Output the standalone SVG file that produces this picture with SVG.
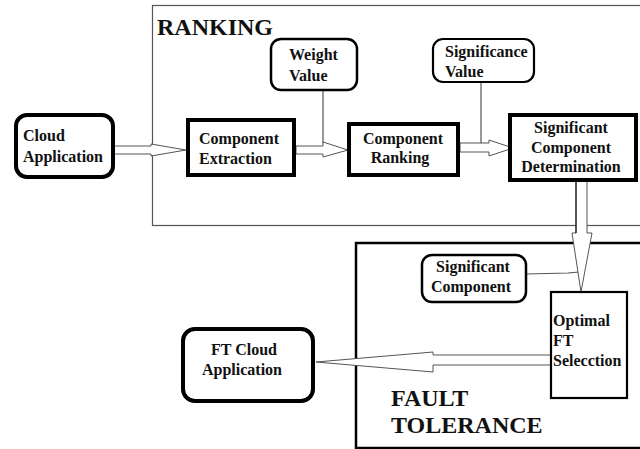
<svg xmlns="http://www.w3.org/2000/svg" width="640" height="449" viewBox="0 0 640 449">
  <style>
    .lbl { font-family: "Liberation Serif", "Times New Roman", serif; font-weight: bold; font-size: 16px; fill: #111; }
    .title { font-family: "Liberation Serif", "Times New Roman", serif; font-weight: bold; font-size: 24px; fill: #111; }
    .box { fill: #fff; stroke: #000; stroke-width: 4; }
    .rbox { fill: #fff; stroke: #000; }
    .arrow { fill: #fff; stroke: #555; stroke-width: 1; stroke-linejoin: miter; }
    .link { fill: none; stroke: #555; stroke-width: 1.2; }
  </style>
  <rect width="640" height="449" fill="#fff"/>

  <!-- Ranking stage frame -->
  <g id="ranking-frame">
    <rect x="152.5" y="5.5" width="500" height="220" fill="none" stroke="#555" stroke-width="1.2"/>
    <text class="title" x="157" y="35">RANKING</text>
  </g>

  <!-- Fault tolerance stage frame -->
  <g id="fault-tolerance-frame">
    <rect x="356" y="243" width="300" height="205" fill="none" stroke="#000" stroke-width="2.5"/>
    <text class="title" x="391" y="406">FAULT</text>
    <text class="title" x="391" y="433">TOLERANCE</text>
  </g>

  <!-- Connectors -->
  <g id="connectors">
    <line class="link" x1="323" y1="90" x2="323" y2="143"/>
    <line class="link" x1="481" y1="82" x2="481" y2="143"/>
    <polyline class="link" points="526,274 568,273 579,272"/>
    <!-- Cloud Application to Component Extraction -->
    <polygon class="arrow" points="113,146 151,146 151,144 186,150 151,156 151,154 113,154"/>
    <!-- Component Extraction to Component Ranking -->
    <polygon class="arrow" points="296,146 323,146 323,142 348,150 323,157 323,154 296,154"/>
    <!-- Component Ranking to Significant Component Determination -->
    <polygon class="arrow" points="460,143 489,143 489,140 513,148 489,156 489,152 460,152"/>
    <!-- Significant Component Determination down to Optimal FT Selection -->
    <polygon class="arrow" points="576,181 587,181 587,233 592,233 581,292 572,233 576,233"/>
    <line x1="576" y1="181" x2="576" y2="233" stroke="#000" stroke-width="1"/>
    <!-- Optimal FT Selection to FT Cloud Application -->
    <polygon class="arrow" points="552,355 433,355 433,352 316,362 433,372 433,365 552,365"/>
  </g>

  <g id="cloud-application">
    <rect class="rbox" x="16" y="115" width="97" height="62" rx="11" stroke-width="4"/>
    <text class="lbl" x="23" y="141">Cloud</text>
    <text class="lbl" x="23" y="162">Application</text>
  </g>

  <g id="component-extraction">
    <rect class="box" x="188" y="120" width="106" height="55"/>
    <text class="lbl" x="199" y="144">Component</text>
    <text class="lbl" x="199" y="164">Extraction</text>
  </g>

  <g id="weight-value">
    <rect class="rbox" x="271" y="39" width="86" height="51" rx="10" stroke-width="2.5"/>
    <text class="lbl" x="289" y="60">Weight</text>
    <text class="lbl" x="289" y="81">Value</text>
  </g>

  <g id="component-ranking">
    <rect class="box" x="349" y="124" width="109" height="51"/>
    <text class="lbl" x="403" y="144" text-anchor="middle">Component</text>
    <text class="lbl" x="400" y="163" text-anchor="middle">Ranking</text>
  </g>

  <g id="significance-value">
    <rect class="rbox" x="433" y="39" width="101" height="43" rx="10" stroke-width="2.2"/>
    <text class="lbl" x="445" y="57">Significance</text>
    <text class="lbl" x="445" y="77">Value</text>
  </g>

  <g id="significant-component-determination">
    <rect class="box" x="510" y="115" width="126" height="65"/>
    <text class="lbl" x="571" y="133" text-anchor="middle">Significant</text>
    <text class="lbl" x="571" y="153" text-anchor="middle">Component</text>
    <text class="lbl" x="571" y="172" text-anchor="middle">Determination</text>
  </g>

  <g id="significant-component">
    <rect class="rbox" x="422" y="255" width="104" height="47" rx="10" stroke-width="2.5"/>
    <text class="lbl" x="473" y="272" text-anchor="middle">Significant</text>
    <text class="lbl" x="471" y="292" text-anchor="middle">Component</text>
  </g>

  <g id="optimal-ft-selection">
    <rect x="551" y="292" width="76" height="106" fill="#fff" stroke="#000" stroke-width="2.2"/>
    <text class="lbl" x="553" y="326">Optimal</text>
    <text class="lbl" x="553" y="346">FT</text>
    <text class="lbl" x="553" y="366">Selecction</text>
  </g>

  <g id="ft-cloud-application">
    <rect class="rbox" x="183" y="329" width="130" height="72" rx="12" stroke-width="4"/>
    <text class="lbl" x="244" y="355" text-anchor="middle">FT Cloud</text>
    <text class="lbl" x="242" y="375" text-anchor="middle">Application</text>
  </g>
</svg>
